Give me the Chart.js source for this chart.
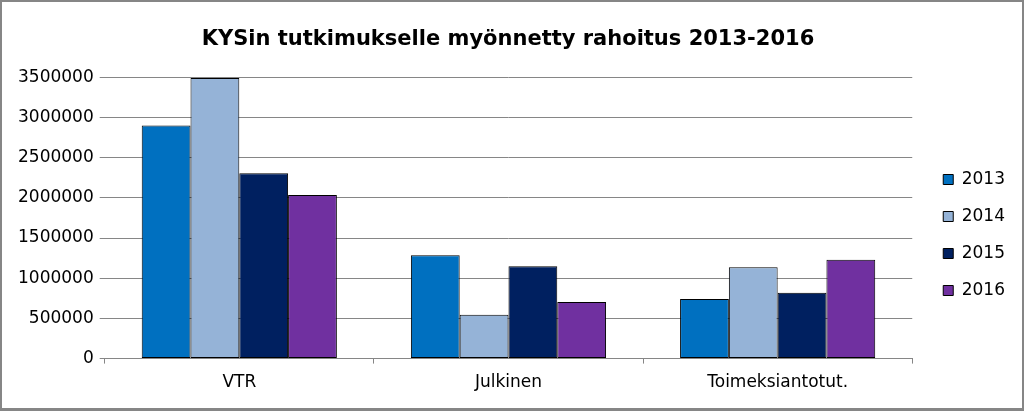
<!DOCTYPE html>
<html>
<head>
<meta charset="utf-8">
<script src="https://cdn.jsdelivr.net/npm/chart.js@4.4.1/dist/chart.umd.min.js"></script>
<style>
  html, body { margin: 0; padding: 0; background: #fff; }
  #wrap { position: relative; width: 1024px; height: 411px; }
  #frame { position: absolute; left: 0; top: 0; width: 1024px; height: 411px; box-sizing: border-box; border: 2px solid #868686; border-bottom-width: 3px; pointer-events: none; }
</style>
</head>
<body>
<div id="wrap">
  <canvas id="c" width="1024" height="411"></canvas>
  <div id="frame"></div>
</div>
<script>
const categories = ["VTR", "Julkinen", "Toimeksiantotut."];
const seriesNames = ["2013", "2014", "2015", "2016"];
const values2013 = [2900000, 1285000, 742000];
const values2014 = [3490000, 545000, 1135000];
const values2015 = [2305000, 1150000, 820000];
const values2016 = [2035000, 705000, 1230000];
const seriesColors = ["#0070C0", "#95B3D7", "#002060", "#7030A0"];
const yTicks = [0, 500000, 1000000, 1500000, 2000000, 2500000, 3000000, 3500000];
const titleText = "KYSin tutkimukselle myönnetty rahoitus 2013-2016";

const allValues = [values2013, values2014, values2015, values2016];
const FONT = "'DejaVu Sans', sans-serif";

const legendShift = {
  id: 'legendShift',
  afterLayout(chart) {
    const lg = chart.legend;
    if (lg) { lg.top += 34; lg.bottom += 34; lg.left += 11; lg.right += 11; }
  }
};

new Chart(document.getElementById('c'), {
  type: 'bar',
  data: {
    labels: categories,
    datasets: seriesNames.map((n, i) => ({
      label: n,
      data: allValues[i],
      backgroundColor: seriesColors[i],
      borderColor: '#000000',
      borderWidth: 1,
      borderSkipped: false,
      categoryPercentage: 0.725,
      barPercentage: 1.0
    }))
  },
  options: {
    responsive: false,
    animation: false,
    devicePixelRatio: 1,
    layout: { padding: { left: 12, right: 20, top: 0, bottom: 9 } },
    plugins: {
      title: {
        display: true,
        text: titleText,
        color: '#000',
        font: { family: FONT, size: 21, weight: 'bold' },
        padding: { top: 27, bottom: 25 }
      },
      legend: {
        position: 'right',
        labels: {
          color: '#000',
          font: { family: FONT, size: 17 },
          boxWidth: 10,
          boxHeight: 10,
          padding: 20
        }
      },
      tooltip: { enabled: false }
    },
    scales: {
      x: {
        grid: { drawOnChartArea: false, offset: true, tickLength: 5, color: '#868686' },
        border: { color: '#868686' },
        ticks: { color: '#000', font: { family: FONT, size: 17 }, padding: 9 }
      },
      y: {
        min: 0,
        max: 3500000,
        afterBuildTicks(axis) { axis.ticks = yTicks.map(v => ({ value: v })); },
        grid: { color: '#868686', tickLength: 5 },
        border: { display: false },
        ticks: {
          color: '#000',
          font: { family: FONT, size: 17 },
          padding: 6,
          callback: v => String(v)
        }
      }
    }
  },
  plugins: [legendShift]
});
</script>
</body>
</html>
